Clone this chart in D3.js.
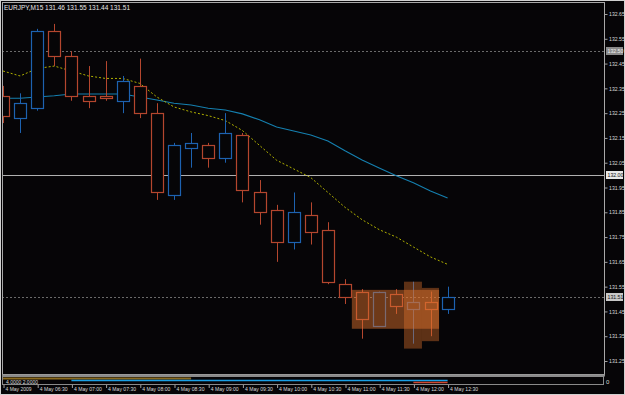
<!DOCTYPE html>
<html>
<head>
<meta charset="utf-8">
<script src="https://cdn.jsdelivr.net/npm/d3@7"></script>
<style>
  body { margin: 0; background: #060507; }
  svg text { font-family: "Liberation Sans", Arial, sans-serif; }
</style>
</head>
<body>
<div id="chart"></div>
<script>
// EURJPY M15 bars, 4 May 2009 06:00 .. 12:30
let barTimes = ['06:00', '06:15', '06:30', '06:45', '07:00', '07:15', '07:30', '07:45', '08:00',
  '08:15', '08:30', '08:45', '09:00', '09:15', '09:30', '09:45', '10:00', '10:15', '10:30',
  '10:45', '11:00', '11:15', '11:30', '11:45', '12:00', '12:15', '12:30'];

let opens  = [132.32, 132.23, 132.27, 132.58, 132.48, 132.32, 132.32, 132.30, 132.36, 132.25, 131.92,
  132.11, 132.12, 132.07, 132.16, 131.93, 131.86, 131.73, 131.84, 131.78, 131.56, 131.53, 131.39,
  131.52, 131.46, 131.49, 131.46];
let highs  = [132.36, 132.33, 132.59, 132.61, 132.50, 132.44, 132.46, 132.40, 132.47, 132.29, 132.13,
  132.17, 132.13, 132.25, 132.17, 131.98, 131.88, 131.93, 131.89, 131.81, 131.58, 131.54, 131.53,
  131.54, 131.57, 131.53, 131.55];
let lows   = [132.21, 132.17, 132.26, 132.44, 132.30, 132.27, 132.30, 132.25, 132.23, 131.90, 131.90,
  132.03, 132.03, 132.05, 131.89, 131.80, 131.65, 131.70, 131.72, 131.56, 131.48, 131.34, 131.39,
  131.44, 131.32, 131.35, 131.44];
let closes = [132.24, 132.29, 132.58, 132.48, 132.32, 132.30, 132.31, 132.38, 132.25, 131.93, 132.12,
  132.13, 132.07, 132.17, 131.94, 131.85, 131.73, 131.85, 131.77, 131.57, 131.51, 131.42, 131.53,
  131.47, 131.49, 131.46, 131.51];

// moving averages
let maFast = [132.42, 132.40, 132.43, 132.44, 132.42, 132.40, 132.39, 132.39, 132.37, 132.315, 132.275,
  132.255, 132.24, 132.22, 132.18, 132.12, 132.06, 132.025, 131.99, 131.93, 131.87, 131.82, 131.78,
  131.75, 131.71, 131.67, 131.64];
let maSlow = [132.31, 132.31, 132.315, 132.32, 132.327, 132.327, 132.327, 132.327, 132.315, 132.303,
  132.29, 132.283, 132.27, 132.263, 132.247, 132.223, 132.194, 132.178, 132.162, 132.138, 132.098,
  132.061, 132.029, 131.997, 131.969, 131.936, 131.908];

// price scale ticks and horizontal lines
let priceTicks = [132.65, 132.55, 132.45, 132.35, 132.25, 132.15, 132.05, 131.95, 131.85, 131.75,
  131.65, 131.55, 131.45, 131.35, 131.25];
let levelLines = [132.50, 132.00, 131.51];
let levelKinds = ['dot', 'solid', 'dot'];

// rectangle objects: [bar from, bar to, price high, price low]
let darkBoxes = [[23.45, 24.5, 131.57, 131.30], [24.5, 25.5, 131.545, 131.33]];
let lightBoxes = [[20.4, 25.5, 131.537, 131.38]];

// sub window lines: [bar from, bar to]
let subBrown = [-0.1, 11];
let subBlue = [4, 26];
let subRed = [24, 26];

let svgWidth = 625;
let svgHeight = 395;

let plot = { left: 2, right: 604, top: 2, bottom: 375 };

let svg = d3.select('#chart').append('svg')
  .attr('width', svgWidth)
  .attr('height', svgHeight);

svg.append('rect')
  .attr('width', svgWidth).attr('height', svgHeight)
  .attr('fill', '#060507');

// scales
let x = d3.scaleLinear().domain([0, 26]).range([3, 447.6]);
let y = d3.scaleLinear().domain([131.25, 132.65]).range([361, 14]);

// outer border
svg.append('rect')
  .attr('x', 0.5).attr('y', 0.5)
  .attr('width', svgWidth - 1).attr('height', svgHeight - 1)
  .attr('fill', 'none').attr('stroke', '#d0d0d0');

svg.append('clipPath').attr('id', 'plotclip')
  .append('rect')
  .attr('x', plot.left).attr('y', plot.top)
  .attr('width', plot.right - plot.left).attr('height', plot.bottom - plot.top);

let g = svg.append('g').attr('clip-path', 'url(#plotclip)');

// horizontal level lines
levelLines.forEach(function (p, i) {
  g.append('line')
    .attr('x1', plot.left).attr('x2', plot.right)
    .attr('y1', Math.round(y(p)) + 0.5).attr('y2', Math.round(y(p)) + 0.5)
    .attr('stroke', levelKinds[i] === 'solid' ? '#b0b0b0' : '#6a6a6a')
    .attr('stroke-dasharray', levelKinds[i] === 'solid' ? null : '2,2');
});

// moving averages
let line = d3.line()
  .x((d, i) => x(i))
  .y(d => y(d));

g.append('path')
  .datum(maSlow)
  .attr('d', line)
  .attr('fill', 'none')
  .attr('stroke', '#1580b0')
  .attr('stroke-width', 1.1);

g.append('path')
  .datum(maFast)
  .attr('d', line)
  .attr('fill', 'none')
  .attr('stroke', '#b0b000')
  .attr('stroke-width', 1)
  .attr('stroke-dasharray', '2,2');

// candles
let bars = d3.range(opens.length).map(i => ({
  i: i, o: opens[i], h: highs[i], l: lows[i], c: closes[i]
}));

let candle = g.selectAll('.candle')
  .data(bars)
  .enter()
  .append('g')
  .classed('candle', true);

candle.each(function (d) {
  let cg = d3.select(this);
  let cx = Math.round(x(d.i)) + 0.5;
  let color = d.c >= d.o ? '#1d62b0' : '#b4462e';
  let top = Math.round(y(Math.max(d.o, d.c))) + 0.5;
  let bot = Math.round(y(Math.min(d.o, d.c))) + 0.5;
  cg.append('line')
    .attr('x1', cx).attr('x2', cx)
    .attr('y1', y(d.h)).attr('y2', top)
    .attr('stroke', color);
  cg.append('line')
    .attr('x1', cx).attr('x2', cx)
    .attr('y1', bot).attr('y2', y(d.l))
    .attr('stroke', color);
  cg.append('rect')
    .attr('x', cx - 6).attr('y', top)
    .attr('width', 12).attr('height', Math.max(bot - top, 1))
    .attr('fill', '#060507')
    .attr('stroke', color)
    .attr('stroke-width', 1.2);
});

// rectangle objects
g.selectAll('.darkbox')
  .data(darkBoxes)
  .enter()
  .append('rect')
  .attr('x', d => x(d[0]))
  .attr('y', d => y(d[2]))
  .attr('width', d => x(d[1]) - x(d[0]))
  .attr('height', d => y(d[3]) - y(d[2]))
  .attr('fill', '#e0722e')
  .attr('opacity', 0.4);

g.selectAll('.lightbox')
  .data(lightBoxes)
  .enter()
  .append('rect')
  .attr('x', d => x(d[0]))
  .attr('y', d => y(d[2]))
  .attr('width', d => x(d[1]) - x(d[0]))
  .attr('height', d => y(d[3]) - y(d[2]))
  .attr('fill', '#e0722e')
  .attr('opacity', 0.48);

// plot frame
svg.append('rect')
  .attr('x', plot.left + 0.5).attr('y', plot.top + 0.5)
  .attr('width', plot.right - plot.left).attr('height', plot.bottom - plot.top - 1)
  .attr('fill', 'none').attr('stroke', '#a8a8a8');

svg.append('line')
  .attr('x1', plot.left).attr('x2', plot.right + 1)
  .attr('y1', plot.bottom + 0.5).attr('y2', plot.bottom + 0.5)
  .attr('stroke', '#8a8a8a').attr('stroke-width', 2);

// title
svg.append('text')
  .attr('x', 4).attr('y', 10)
  .attr('fill', '#e8e8e8')
  .attr('font-size', 6.5)
  .text('EURJPY,M15  131.46 131.55 131.44 131.51');

// price axis
let yAxis = svg.append('g')
  .attr('transform', `translate(${plot.right + 0.5}, 0)`)
  .call(d3.axisRight(y).tickValues(priceTicks).tickSize(3).tickPadding(1.5).tickFormat(d3.format('.2f')));

yAxis.select('.domain').remove();
yAxis.selectAll('line').attr('stroke', '#a0a0a0');
yAxis.selectAll('text')
  .attr('fill', '#d8d8d8')
  .attr('font-size', 5.2)
  .attr('font-family', '"Liberation Sans", Arial, sans-serif');

// price labels on the level lines
let boxFills = ['#8a8a8a', '#e8e8e8', '#c8c8c8'];
let boxText = ['#f0f0f0', '#101010', '#101010'];
levelLines.forEach(function (p, i) {
  let yy = Math.round(y(p));
  svg.append('rect')
    .attr('x', 606).attr('y', yy - 4)
    .attr('width', 17).attr('height', 8)
    .attr('fill', boxFills[i]);
  svg.append('text')
    .attr('x', 607.5).attr('y', yy + 2)
    .attr('fill', boxText[i])
    .attr('font-size', 5.2)
    .text(d3.format('.2f')(p));
});

// sub window
let sub = { top: 377, bottom: 385 };
svg.append('rect')
  .attr('x', plot.left + 0.5).attr('y', sub.top - 0.5)
  .attr('width', plot.right - plot.left - 1).attr('height', sub.bottom - sub.top)
  .attr('fill', 'none').attr('stroke', '#8a8a8a');

let subLines = [[subBrown, '#8a6a1e', 378.5, 2], [subBlue, '#1aa0e6', 380.5, 1.5], [subRed, '#d04830', 382.5, 1.5]];
subLines.forEach(function (s) {
  svg.append('line')
    .attr('x1', Math.max(x(s[0][0]), plot.left + 1)).attr('x2', x(s[0][1]))
    .attr('y1', s[2]).attr('y2', s[2])
    .attr('stroke', s[1]).attr('stroke-width', s[3]);
});

svg.append('text')
  .attr('x', 6).attr('y', 384)
  .attr('fill', '#d8d8d8')
  .attr('font-size', 5)
  .text('4.0000 2.0000');

svg.append('text')
  .attr('x', 606).attr('y', 384)
  .attr('fill', '#d8d8d8')
  .attr('font-size', 6)
  .text('0');

// time axis
let xAxis = svg.append('g')
  .attr('transform', `translate(0, ${sub.bottom})`)
  .call(d3.axisBottom(x)
    .tickValues(d3.range(0, barTimes.length, 2))
    .tickSize(3)
    .tickFormat(i => i === 0 ? '4 May 2009' : '4 May ' + barTimes[i]));

xAxis.select('.domain').remove();
xAxis.selectAll('line').attr('stroke', '#a0a0a0')
  .attr('transform', 'translate(0.5,0)');
xAxis.selectAll('text')
  .attr('fill', '#d8d8d8')
  .attr('font-size', 6)
  .attr('font-family', '"Liberation Sans", Arial, sans-serif')
  .attr('text-anchor', 'start')
  .attr('dx', 2)
  .attr('y', 2)
  .attr('textLength', d => d === 0 ? 26 : 28)
  .attr('lengthAdjust', 'spacingAndGlyphs');
</script>
</body>
</html>
